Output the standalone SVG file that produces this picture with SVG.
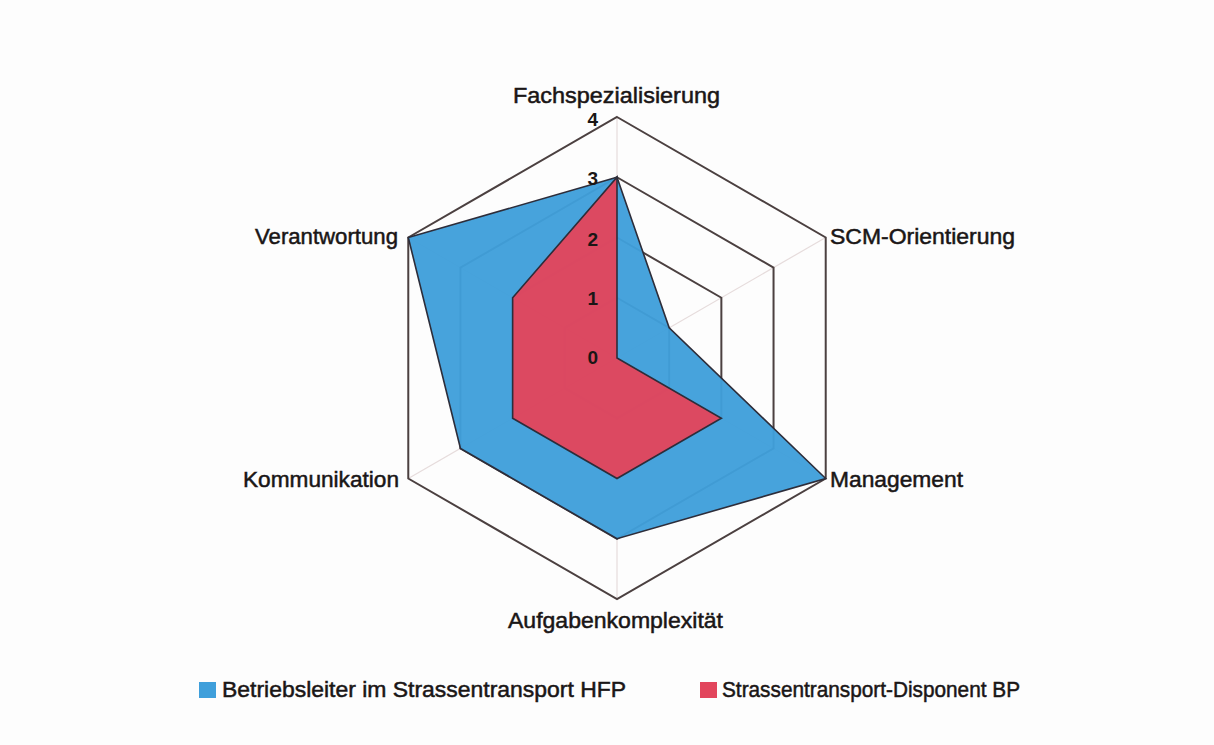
<svg xmlns="http://www.w3.org/2000/svg" width="1214" height="745" viewBox="0 0 1214 745">
  <style>
    .grid { fill: none; stroke: #4b4040; stroke-width: 2; stroke-linejoin: miter; }
    .axis { stroke: #e6dcdc; stroke-width: 1.2; }
    .series { stroke: #2d2d3a; stroke-width: 1.6; stroke-linejoin: miter; fill-opacity: 0.96; }
    .cat { font-family: "Liberation Sans", Arial, sans-serif; font-size: 22px; fill: #1a1616; stroke: #1a1616; stroke-width: 0.5; }
    .tick { font-family: "Liberation Sans", Arial, sans-serif; font-size: 19px; font-weight: bold; fill: #1a1616; text-anchor: end; }
    .leg { font-family: "Liberation Sans", Arial, sans-serif; font-size: 22px; fill: #1a1616; stroke: #1a1616; stroke-width: 0.5; }
  </style>
  <rect x="0" y="0" width="1214" height="745" fill="#fdfdfd"/>

  <!-- radial axes from the centre to each outer vertex -->
  <g id="axes">
    <line class="axis" x1="617" y1="358" x2="617" y2="117"/>
    <line class="axis" x1="617" y1="358" x2="825.72" y2="237.5"/>
    <line class="axis" x1="617" y1="358" x2="825.72" y2="478.5"/>
    <line class="axis" x1="617" y1="358" x2="617" y2="599"/>
    <line class="axis" x1="617" y1="358" x2="408.28" y2="478.5"/>
    <line class="axis" x1="617" y1="358" x2="408.28" y2="237.5"/>
  </g>

  <!-- hexagonal grid, levels 1 to 4 -->
  <g id="grid">
    <polygon class="grid" points="617,297.75 669.18,327.88 669.18,388.13 617,418.25 564.82,388.13 564.82,327.88"/>
    <polygon class="grid" points="617,237.5 721.36,297.75 721.36,418.25 617,478.5 512.64,418.25 512.64,297.75"/>
    <polygon class="grid" points="617,177.25 773.54,267.63 773.54,448.38 617,538.75 460.46,448.38 460.46,267.63"/>
    <polygon class="grid" points="617,117 825.72,237.5 825.72,478.5 617,599 408.28,478.5 408.28,237.5"/>
  </g>

  <!-- data series -->
  <g id="series-hfp">
    <polygon class="series" fill="#3f9fdb" points="617,177.25 669.18,327.88 825.72,478.5 617,538.75 460.46,448.38 408.28,237.5"/>
  </g>
  <g id="series-bp">
    <polygon class="series" fill="#e2455c" points="617,177.25 617,358 721.36,418.25 617,478.5 512.64,418.25 512.64,297.75"/>
  </g>

  <!-- scale values -->
  <g id="ticks">
    <text class="tick" x="598" y="126">4</text>
    <text class="tick" x="598" y="185">3</text>
    <text class="tick" x="598" y="246">2</text>
    <text class="tick" x="598" y="305">1</text>
    <text class="tick" x="598" y="364">0</text>
  </g>

  <!-- category labels -->
  <g id="labels">
    <text class="cat" x="513" y="103" textLength="207" lengthAdjust="spacingAndGlyphs">Fachspezialisierung</text>
    <text class="cat" x="830" y="244" textLength="185" lengthAdjust="spacingAndGlyphs">SCM-Orientierung</text>
    <text class="cat" x="830" y="487" textLength="133" lengthAdjust="spacingAndGlyphs">Management</text>
    <text class="cat" x="508" y="628" textLength="215" lengthAdjust="spacingAndGlyphs">Aufgabenkomplexität</text>
    <text class="cat" x="243" y="487" textLength="156" lengthAdjust="spacingAndGlyphs">Kommunikation</text>
    <text class="cat" x="255" y="244" textLength="143" lengthAdjust="spacingAndGlyphs">Verantwortung</text>
  </g>

  <!-- legend -->
  <g id="legend">
    <rect x="199" y="682" width="17" height="16" fill="#3f9fdb"/>
    <text class="leg" x="222" y="697" textLength="404" lengthAdjust="spacingAndGlyphs">Betriebsleiter im Strassentransport HFP</text>
    <rect x="700" y="682" width="17" height="16" fill="#e2455c"/>
    <text class="leg" x="722" y="697" textLength="298" lengthAdjust="spacingAndGlyphs">Strassentransport-Disponent BP</text>
  </g>
</svg>
